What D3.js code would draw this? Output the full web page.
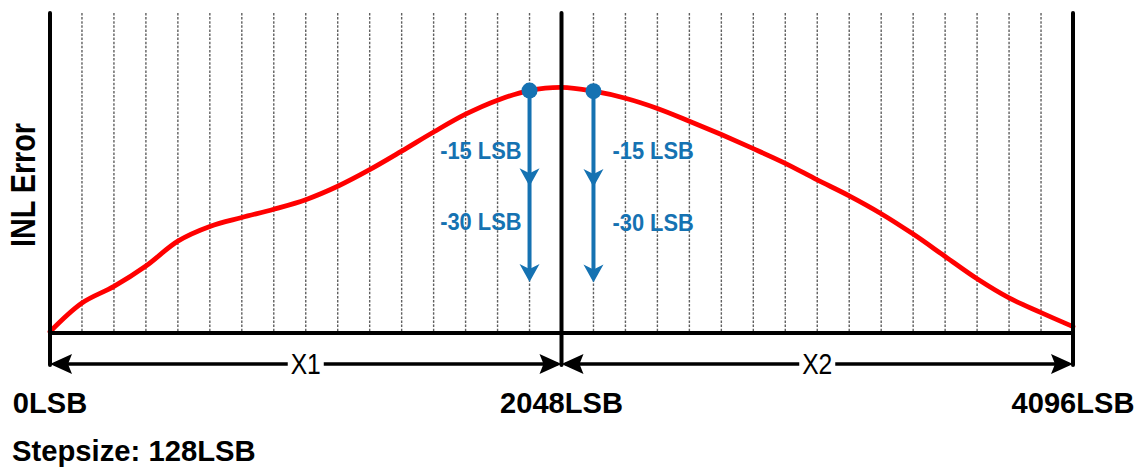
<!DOCTYPE html>
<html>
<head>
<meta charset="utf-8">
<script src="https://cdn.jsdelivr.net/npm/d3@7"></script>
<style>
  html, body { margin: 0; padding: 0; background: #fff; }
  svg { display: block; }
  text { font-family: "Liberation Sans", Arial, sans-serif; }
</style>
</head>
<body>
<svg id="chart" width="1142" height="468"></svg>
<script>
// ---- data ----
const codes = [0,128,256,384,512,640,768,896,1024,1152,1280,1408,1536,1664,1792,1920,2048,
               2176,2304,2432,2560,2688,2816,2944,3072,3200,3328,3456,3584,3712,3840,3968,4096];
const inlError = [0.2,4.7,7.3,10.5,14.4,16.7,18.1,19.4,20.9,23.0,25.6,28.5,31.5,34.3,36.5,38.0,38.5,
                  37.9,36.8,35.2,33.2,31.1,28.9,26.6,24.0,21.5,18.7,15.5,12.0,8.5,5.5,3.2,1.0];
const stepsize = 128;
const gridCodes = d3.range(stepsize, 4096, stepsize);
const majorCodes = [0, 2048, 4096];
const majorLabels = ["0LSB", "2048LSB", "4096LSB"];
const rangeNames = ["X1", "X2"];
const rangeBounds = [[0, 2048], [2048, 4096]];
const markerCodes = [1920, 2176];
const markerValues = [38.0, 37.9];
const markerSteps = [15, 30];
const markerStepLabels = ["-15 LSB", "-30 LSB"];
const yTitle = "INL Error";
const footnote = "Stepsize: 128LSB";

(function () {
// ---- layout ----
const svg = d3.select("#chart");
const padL = 50, padR = 1073, padT = 13, base = 333, arrowY = 364;
const x = d3.scaleLinear().domain([0, 4096]).range([padL, padR]);
const y = d3.scaleLinear().domain([0, 50]).range([base, 14]);
const blue = "#1572b2";

// dotted grid lines
svg.append("g").selectAll("line").data(gridCodes).join("line")
  .attr("x1", d => x(d)).attr("x2", d => x(d))
  .attr("y1", padT).attr("y2", base)
  .attr("stroke", "#606060").attr("stroke-width", 1.4)
  .attr("stroke-dasharray", "2.5,1.6");

// red curve
const line = d3.line().x((d, i) => x(codes[i])).y(d => y(d)).curve(d3.curveCatmullRom.alpha(0.5));
svg.append("path").datum(inlError)
  .attr("d", line).attr("fill", "none")
  .attr("stroke", "#ff0000").attr("stroke-width", 4.8).attr("stroke-linecap", "round");

// black frame lines
svg.append("line").attr("x1", padL).attr("x2", padR).attr("y1", base).attr("y2", base)
  .attr("stroke", "#000").attr("stroke-width", 4);
svg.append("g").selectAll("line").data(majorCodes).join("line")
  .attr("x1", d => x(d)).attr("x2", d => x(d))
  .attr("y1", padT).attr("y2", arrowY + 1)
  .attr("stroke", "#000").attr("stroke-width", 4).attr("stroke-linecap", "round");

// dimension arrows
const dart = (len, hw, notch) => `M0,0 L${-len},${-hw} L${-len + notch},0 L${-len},${hw} Z`;
const dimG = svg.append("g");
rangeBounds.forEach((b, i) => {
  const x0 = x(b[0]), x1 = x(b[1]);
  dimG.append("line").attr("x1", x0 + 4).attr("x2", x1 - 4).attr("y1", arrowY).attr("y2", arrowY)
    .attr("stroke", "#000").attr("stroke-width", 3.6);
  dimG.append("path").attr("d", dart(22, 10, 4))
    .attr("transform", `translate(${x0},${arrowY}) rotate(180)`).attr("fill", "#000");
  dimG.append("path").attr("d", dart(22, 10, 4))
    .attr("transform", `translate(${x1},${arrowY})`).attr("fill", "#000");
  const cx = (x0 + x1) / 2;
  dimG.append("rect").attr("x", cx - 18).attr("y", arrowY - 5).attr("width", 36).attr("height", 10)
    .attr("fill", "#fff");
  dimG.append("text").attr("transform", `translate(${cx},${arrowY + 10}) scale(0.85,1)`)
    .attr("text-anchor", "middle").attr("font-size", 29).attr("fill", "#000")
    .text(rangeNames[i]);
});

// blue markers with downward arrows
const mg = svg.append("g");
markerCodes.forEach((c, i) => {
  const mx = x(c), my = y(markerValues[i]);
  const tips = markerSteps.map(s => y(markerValues[i] - s));
  mg.append("line").attr("x1", mx).attr("x2", mx).attr("y1", my).attr("y2", tips[tips.length - 1] - 8)
    .attr("stroke", blue).attr("stroke-width", 4);
  tips.forEach(t => {
    mg.append("path").attr("d", dart(18, 10, 5))
      .attr("transform", `translate(${mx},${t}) rotate(90)`).attr("fill", blue);
  });
  mg.append("circle").attr("cx", mx).attr("cy", my).attr("r", 8).attr("fill", blue);
  const labelX = i === 0 ? mx - 8 : mx + 19;
  const anchor = i === 0 ? "end" : "start";
  const labelYs = [my + 68, my + 139.5];
  markerStepLabels.forEach((lab, j) => {
    mg.append("text").attr("transform", `translate(${labelX},${labelYs[j]}) scale(0.93,1)`)
      .attr("text-anchor", anchor).attr("font-size", 23.5).attr("font-weight", "bold")
      .attr("fill", blue).text(lab);
  });
});

// bottom labels
svg.append("g").selectAll("text").data(majorCodes).join("text")
  .attr("transform", d => `translate(${x(d)},413) scale(0.97,1)`)
  .attr("text-anchor", "middle").attr("font-size", 30).attr("font-weight", "bold")
  .attr("fill", "#000").text((d, i) => majorLabels[i]);

svg.append("text").attr("transform", "translate(12,461) scale(0.975,1)")
  .attr("font-size", 30).attr("font-weight", "bold").attr("fill", "#000").text(footnote);

// y title
svg.append("text").attr("transform", "translate(35,185) rotate(-90) scale(0.82,1)")
  .attr("text-anchor", "middle").attr("font-size", 35).attr("font-weight", "bold")
  .attr("fill", "#000").text(yTitle);
})();
</script>
</body>
</html>
